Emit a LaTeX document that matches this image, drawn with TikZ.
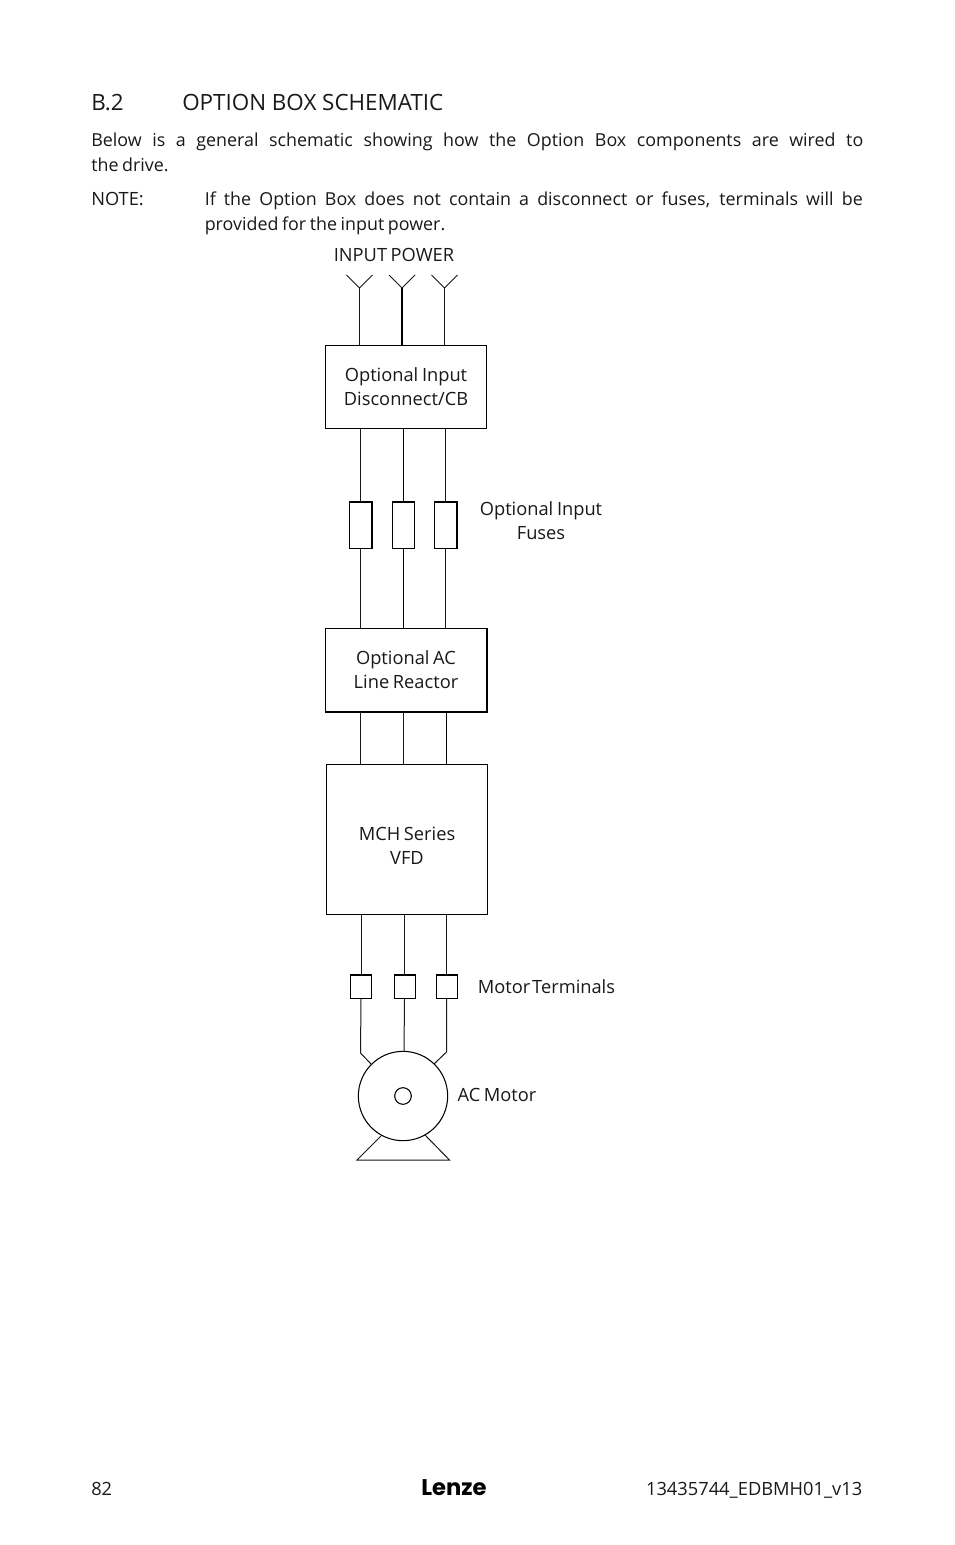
\documentclass[tikz,border=0pt]{standalone}
\usepackage{fontspec}
\usetikzlibrary{calc}
\setmainfont{Open Sans}
\newfontfamily\logofont{Poppins}
\newcommand\labelfont{\fontsize{13.7pt}{18pt}\selectfont\spaceskip=0.2em\relax}
\tikzset{
  x=0.75pt,y=-0.75pt,
  wire/.style={draw=black!90,line width=0.75pt},
  heavy/.style={draw=black,line width=1.4pt},
  block/.style={draw=black,line width=0.75pt,fill=white,minimum width=120.75pt,inner sep=0pt,align=center,font=\labelfont,text=black!90},
  fuse/.style={draw=black,line width=0.75pt,fill=white,minimum width=16.5pt,minimum height=34.5pt,inner sep=0pt},
  term/.style={draw=black,line width=0.75pt,fill=white,minimum width=15.75pt,minimum height=17.25pt,inner sep=0pt},
  lab/.style={inner sep=0pt,font=\labelfont,align=center,text=black!90},
  body/.style={inner sep=0pt,anchor=base west,font=\fontsize{13.7pt}{18pt}\selectfont,text=black!90},
}
\begin{document}
\begin{tikzpicture}
\useasboundingbox (0,0) rectangle (954,1545);
\fill[white] (0,0) rectangle (954,1545);
% page text
\node[body,font=\fontsize{16.8pt}{20pt}\selectfont] (hnum) at (91,110) {B.2};
\node[body,font=\fontsize{16.8pt}{20pt}\selectfont] (htitle) at (182,110) {OPTION BOX SCHEMATIC};
\node[body,anchor=north west] (para) at (91,133) {\parbox[t]{579pt}{\fontsize{13.4pt}{18.2pt}\selectfont\spaceskip=0.2em plus 1em Below is a general schematic showing how the Option Box components are wired to\linebreak the drive.}};
\node[body] (note) at (91,205) {NOTE:};
\node[body,anchor=north west] (notetext) at (204.5,192) {\parbox[t]{493.5pt}{\fontsize{13.4pt}{18.2pt}\selectfont\spaceskip=0.2em plus 1em If the Option Box does not contain a disconnect or fuses, terminals will be\linebreak provided for the input power.}};
\node[lab] (ip) at (394,254.5) {INPUT POWER};
% blocks
\node[block,minimum height=62.25pt] (b1) at (406,386.5) {Optional Input\\Disconnect/CB};
\node[block,minimum height=62.25pt] (b2) at (406,670) {Optional AC\\Line Reactor};
\node[block,minimum height=112.5pt] (b3) at (407,839.5) {};
\node[lab] (b3text) at (407,846) {MCH Series\\VFD};
\foreach \n/\x in {a/360.5,b/403.5,c/445.5}{
  \node[fuse] (f\n) at (\x,525) {};
}
\foreach \n/\x in {a/361,b/404.5,c/446.5}{
  \node[term] (t\n) at (\x,987) {};
}
\draw[heavy] (b2.north east) -- (b2.south east) -- (b2.south west);
\draw[heavy] (ta.north west) -- (ta.north east);
\foreach \n in {b,c}{
  \draw[heavy] (t\n.north west) -- (t\n.north east) -- (t\n.south east);
}
\draw[heavy] (fb.north west) -- (fb.north east);
\foreach \n in {a,c}{
  \draw[heavy] (f\n.north west) -- (f\n.north east) -- (f\n.south east);
}
% antennae
\coordinate (ya) at (359.5,288);\coordinate (yb) at (402,288);\coordinate (yc) at (444.5,288);
\foreach \n in {a,b,c}{
  \draw[wire] ($(y\n)+(-13,-13)$) -- (y\n) -- ($(y\n)+(13,-13)$);
}
\draw[wire] (ya) -- (ya|-b1.north);
\draw[heavy] (yb) -- (yb|-b1.north);
\draw[wire] (yc) -- (yc|-b1.north);
% b1 - fuses - b2
\draw[wire] (fa|-b1.south) -- (fa.north);
\draw[heavy] (fb|-b1.south) -- (fb.north);
\draw[wire] (fc|-b1.south) -- (fc.north);
\draw[wire] (fa.south) -- (fa|-b2.north);
\draw[heavy] (fb.south) -- (fb|-b2.north);
\draw[wire] (fc.south) -- (fc|-b2.north);
% b2 - b3
\draw[wire] (b2.south-|fa) -- (b3.north-|fa);
\draw[wire] (b2.south-|fb) -- (b3.north-|fb);
\draw[heavy] (b2.south-|tc) -- (b3.north-|tc);
% b3 - terminals
\draw[wire] (ta|-b3.south) -- (ta.north);
\draw[wire] (tb|-b3.south) -- (tb.north);
\draw[wire] (tc|-b3.south) -- (tc.north);
% motor
\node[draw=black,line width=0.8pt,circle,minimum size=67pt,inner sep=0pt] (m) at (403,1096) {};
\node[draw=black,line width=0.8pt,circle,minimum size=12.5pt,inner sep=0pt] (shaft) at (403,1096) {};
\draw[wire] (ta.south) -- (360.5,1053) -- (372,1065);
\draw[wire] (tb.south) -- (404,1051.5);
\draw[wire] (tc.south) -- (446.5,1052) -- (434,1064);
\draw[wire] (381,1136) -- (357,1160) -- (449.5,1160) -- (425,1135);
% labels
\node[lab] (l1) at (541,521) {Optional Input\\Fuses};
\node[lab] (l2) at (546.5,986.5) {\spaceskip=0.1em Motor Terminals};
\node[lab] (l3) at (497,1094.5) {AC Motor};
% footer
\node[body] (pg) at (91,1495) {82};
\node[body,anchor=base east] (doc) at (862.5,1495) {13435744\_EDBMH01\_v13};
\node[inner sep=0pt,anchor=base] (logo) at (454,1495) {\logofont\bfseries\fontsize{17pt}{20pt}\selectfont Lenze};
\end{tikzpicture}
\end{document}
